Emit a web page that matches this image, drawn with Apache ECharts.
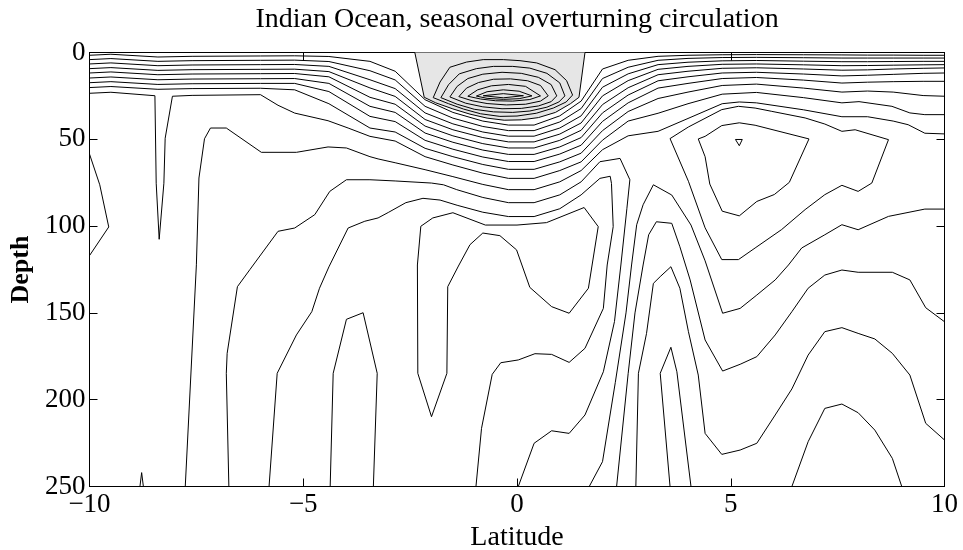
<!DOCTYPE html>
<html><head><meta charset="utf-8">
<script src="https://cdn.jsdelivr.net/npm/echarts/dist/echarts.min.js"></script>
<style>html,body{margin:0;padding:0;background:#fff}#c{width:963px;height:550px}</style>
</head><body><div id="c"></div>
<script>
// ---------- data (latitude, depth) ----------
const titleText = 'Indian Ocean, seasonal overturning circulation';
const xName = 'Latitude';
const yName = 'Depth';

// shared latitude grid for the shallow "U" contours
const uLat = [-10,-9.5,-8.4,-7.6,-6.0,-5.2,-4.4,-3.44,-2.85,-2.15,-1.5,-0.8,-0.2,0.4,1.0,1.5,2.0,2.6,3.3,4.0,4.8,5.6,6.7,7.6,8.2,8.8,9.5,10];
const u1 = [1.6,1.0,2.6,2.2,2.0,1.9,2.3,5.1,10.8,27.2,34.5,39.5,41.8,41.8,36.5,28,9.5,4.5,2.2,1.6,1.3,1.2,1.3,1.4,1.5,1.5,1.6,1.6];
const u2 = [4.1,3.5,5.1,4.7,4.5,4.4,5.2,10.5,15.8,31,37.8,42.6,45,45,40,32.3,15,8.5,4.5,3.4,2.9,2.8,3.0,3.2,3.2,3.2,3.2,3.2];
const u3 = [6.6,6.0,7.6,7.2,7.0,6.9,8.0,15.7,20.8,34.8,41.1,45.8,48.2,48.2,43.5,36.5,20,12.3,7,5.6,4.8,4.6,5.0,5.3,5.3,5.2,5.1,5.1];
const u4 = [9.3,8.7,10.3,9.9,9.7,9.6,11.0,20.4,25.3,38.6,44.5,49,51.5,51.5,47,40.6,25,16.2,9.7,8,6.8,6.6,7.1,7.6,7.5,7.3,7.1,7.0];
const u5 = [11.8,11.2,12.8,12.4,12.2,12.1,14.0,25.8,29.8,42.4,48,52.5,55,55,50.6,44.8,30,20.3,12.8,10.8,9.1,8.8,9.5,10.2,10,9.5,9.1,8.9];
const u6 = [14.7,14.1,15.7,15.3,15.1,15.0,17.8,31,34.5,46.4,51.7,56.2,58.7,58.7,54.4,49,34.8,24.5,16.3,14,11.8,11.4,12.4,13.5,13.1,12.6,12,11.8];
const u7 = [17.4,16.8,18.4,18.0,17.8,17.8,22.5,36.8,39.8,50.6,55.7,60.2,62.8,62.8,58.5,53.4,39.7,29,20.5,17.8,15,14.4,15.9,17.6,17.1,16.8,16.6,16.6];
const u8 = [20.2,19.6,21.2,20.8,20.6,21.5,29.5,43.5,45.8,55.2,60,64.5,67.3,67.3,63,58,45,34,26.5,22.8,19,18.2,20.5,22.8,22.2,22.8,24.8,25.2];
const u9 = [[-10,23.5],[-9.5,22.9],[-8.47,24.9],[-8.44,75.3],[-8.37,107.6],[-8.26,75.3],[-8.23,49.4],[-8.06,25.2],[-7.6,24.7],[-6.0,24.3],[-5.59,30.4],[-5.2,34.9],[-4.42,39.3],[-3.95,43.5],[-3.44,48.3],[-2.85,51],[-2.15,60],[-1.5,64.8],[-0.8,69.5],[-0.2,72.5],[0.4,72.5],[1.0,68],[1.5,63],[2.0,50.5],[2.6,39.5],[3.3,35],[4.0,29.5],[4.8,24],[5.6,23],[6.7,26],[7.6,29],[8.0,28.3],[8.77,31],[9.19,34.8],[9.54,35.8],[10,35.8]];
const cLine = [[-7.76,250],[-7.50,122.3],[-7.44,72.3],[-7.31,49.7],[-7.17,43.5],[-6.80,43.5],[-5.98,57.5],[-5.16,57.5],[-4.42,54.4],[-3.99,55],[-3.44,60],[-3.25,61.3],[-2.85,63.5],[-2.15,67.5],[-1.5,71.5],[-0.8,76],[-0.2,79],[0.4,79],[1.0,74.5],[1.5,68],[2.0,56],[2.6,48],[3.3,45.4],[4.0,38],[4.8,29.5],[5.2,28.5],[5.6,29],[6.7,33],[7.6,37],[8.2,37],[8.8,39.5],[9.15,41.6],[9.54,46.5],[10,46.9]];
const wLine = [[-6.74,250],[-6.80,184.8],[-6.78,173.3],[-6.54,134.9],[-6.25,125.1],[-5.59,103],[-5.20,101.1],[-4.73,93.4],[-4.38,80],[-3.99,73.3],[-3.44,73.3],[-2.85,74],[-2.0,75.2],[-1.72,76.2],[-1.41,79],[-0.8,83.5],[-0.2,86.5],[0.4,86.5],[1.0,82],[1.5,74.5],[1.94,62.9],[2.41,61],[2.64,73.3],[2.57,90],[2.43,122.4],[2.28,155],[2.02,183.9],[1.59,208.8],[1.22,219.4],[0.81,217.9],[0.40,225.1],[0.03,250]];
const bLine = [[-5.80,250],[-5.61,184.8],[-5.16,162.7],[-4.80,149.3],[-4.62,135.8],[-4.40,123.5],[-3.95,101.1],[-3.56,97.2],[-3.25,95.3],[-3.0,92],[-2.6,86.5],[-2.2,84],[-1.8,85],[-1.4,88],[-0.8,92],[-0.2,94.5],[0.4,94.5],[1.0,90],[1.5,82],[1.94,72.5],[2.18,71.3],[2.21,75.4],[2.25,100.3],[2.11,122.4],[2.02,147.4],[1.59,170.4],[1.22,178.5],[0.81,173.9],[0.42,173.5],[0.03,177.1],[-0.38,178.7],[-0.58,185.4],[-0.83,216.5],[-0.96,250]];

// zero contour bounding the shaded (negative) cell
const zeroLine = [[-2.39,0],[-2.17,25.8],[-1.9,29],[-1.5,32.5],[-1.1,35.5],[-0.7,37.8],[-0.3,39],[0.1,38.8],[0.5,37.5],[0.9,34.5],[1.25,29.5],[1.45,25.8],[1.59,0]];
const g6 = [[-1.96,26],[-1.80,17],[-1.57,8.5],[-1.18,5.5],[-0.79,4.1],[-0.32,4.1],[0.07,4.7],[0.46,6],[0.89,9.9],[1.16,16.2],[1.30,24.5],[1.15,28.5],[0.85,32],[0.45,35],[0.0,36.6],[-0.4,36.8],[-0.85,35.3],[-1.25,32.6],[-1.6,29.5],[-1.96,26]];
const g5 = [[-1.78,26],[-1.60,18.5],[-1.35,12.3],[-0.95,9.3],[-0.55,8],[-0.1,8],[0.3,9],[0.7,12],[1.0,17.5],[1.12,25],[0.98,28.5],[0.7,31.5],[0.3,33.7],[-0.1,34.5],[-0.55,34.2],[-1.0,32.7],[-1.4,29.8],[-1.78,26]];
const g4 = [[-1.57,25.6],[-1.40,19.5],[-1.15,15],[-0.8,12.5],[-0.35,11.4],[0.1,12],[0.5,14.3],[0.8,18.5],[0.93,25],[0.8,28.3],[0.5,30.8],[0.1,32.2],[-0.35,32.4],[-0.8,31.3],[-1.2,29.2],[-1.57,25.6]];
const g3 = [[-1.36,25.4],[-1.18,20.5],[-0.9,17.3],[-0.55,15.4],[-0.15,15.2],[0.25,16.3],[0.55,19],[0.73,25],[0.55,28],[0.2,29.8],[-0.25,30.2],[-0.7,29.4],[-1.05,27.8],[-1.36,25.4]];
const g2 = [[-1.15,25.2],[-0.92,21.5],[-0.6,19.2],[-0.2,18.4],[0.2,19.5],[0.55,25],[0.3,27.1],[-0.1,28],[-0.5,27.8],[-0.85,26.8],[-1.15,25.2]];
const g1 = [[-0.95,25.1],[-0.7,22.6],[-0.32,21.5],[0.05,22.3],[0.35,25],[0.05,26.6],[-0.32,27],[-0.7,26.4],[-0.95,25.1]];
const gLens = [[-0.79,24.9],[-0.32,23.7],[0.15,24.9],[-0.32,26.1],[-0.79,24.9]];

// deeper structures
const vLoop = [[-2.0,209.8],[-2.32,184.8],[-2.33,122.4],[-2.25,100.1],[-1.97,95.3],[-1.50,92.3],[-0.74,99.4],[0.0,99.4],[0.69,98],[1.57,89.3],[1.90,100.3],[1.67,135.8],[1.22,150.2],[0.81,146.4],[0.30,135.3],[-0.01,113.7],[-0.40,105.5],[-0.80,104],[-1.10,110.7],[-1.37,123],[-1.62,134.9],[-1.64,184.8],[-2.0,209.8]];
const peakLine = [[-4.37,250],[-4.30,184.8],[-3.99,153.7],[-3.60,149.9],[-3.27,184.8],[-3.36,250]];
const wedge = [[-10,58.5],[-9.76,76.2],[-9.55,100.5],[-10,117]];
const tinySpike = [[-8.82,250],[-8.78,242],[-8.74,250]];
const r1Line = [[1.69,250],[2.0,235.7],[2.3,190],[2.55,150],[2.68,122.4],[2.80,99.2],[2.95,87.7],[3.19,76.2],[3.62,82.1],[4.07,99.4],[4.40,120],[4.81,150.2],[5.22,147.4],[5.61,139.7],[6.04,131],[6.35,122.4],[6.66,112.6],[7.2,105],[7.6,99.2],[7.98,102.1],[8.69,94.4],[9.54,90.2],[10,90.2]];
const r2Line = [[2.33,250],[2.6,185],[2.76,150],[2.95,122.4],[3.08,105],[3.26,97.5],[3.62,98.4],[3.81,111.9],[4.05,131],[4.40,165.6],[4.81,183.5],[5.22,179.6],[5.61,175.2],[6.04,162.7],[6.43,149.3],[6.81,135.8],[7.2,128.2],[7.6,125.3],[7.98,126.6],[8.78,126.6],[9.19,131],[9.56,147],[10,155.1]];
const r3Line = [[2.78,250],[2.84,184.8],[3.03,161.8],[3.19,133],[3.35,129.1],[3.60,123.4],[3.81,135.8],[4.01,160.8],[4.24,185.8],[4.40,219.4],[4.79,231.5],[5.22,229],[5.61,225.1],[6.04,208.8],[6.43,193.8],[6.81,174.3],[7.2,160.8],[7.6,158.5],[7.98,161.8],[8.37,165],[8.78,173.3],[9.19,185.8],[9.56,213.6],[10,223.2]];
const narrowPeak = [[3.58,250],[3.35,184.8],[3.60,169.8],[3.74,183.9],[4.07,250]];
const arch = [[6.43,250],[6.81,224.2],[7.2,205],[7.6,202.5],[7.98,207.5],[8.37,217.5],[8.78,233.8],[9.0,250]];
const cellOuter = [[3.58,49.6],[4.01,42.9],[4.79,32.9],[5.18,31],[5.57,32],[5.96,33.9],[6.74,37.7],[7.2,41.2],[7.6,45.4],[7.91,44.5],[8.69,50.2],[8.30,75.2],[7.98,80],[7.60,76.5],[7.2,81.9],[6.74,90.5],[6.19,102],[5.57,112.6],[5.18,119.3],[4.79,119.3],[4.40,101],[4.01,74.2],[3.58,49.6]];
const cellInner = [[4.24,49.8],[4.40,48.3],[4.79,42.1],[5.20,40.5],[5.57,41.9],[6.83,49.8],[6.37,74.8],[6.02,81.8],[5.61,85.8],[5.20,94.1],[4.80,91.4],[4.51,75.8],[4.40,60],[4.24,49.8]];
const cellTiny = [[5.11,50.1],[5.27,50.1],[5.20,53.7],[5.11,50.1]];

// ---------- chart ----------
const FONT = '"Liberation Serif","Times New Roman",serif';
const black = '#000';
const chart = echarts.init(document.getElementById('c'), null, {renderer:'canvas', width:963, height:550});

function line(data, extra) {
  return Object.assign({
    type:'line', data: data, showSymbol:false, symbol:'none', silent:true,
    animation:false, clip:true, z:3,
    lineStyle:{color:black, width:1}
  }, extra || {});
}
const fromGrid = (depths) => uLat.map((x, i) => [x, depths[i]]);

const series = [
  line(zeroLine, {z:2, areaStyle:{color:'#e6e6e6', opacity:1, origin:'start'}}),
  line(fromGrid(u1)), line(fromGrid(u2)), line(fromGrid(u3)), line(fromGrid(u4)),
  line(fromGrid(u5)), line(fromGrid(u6)), line(fromGrid(u7)), line(fromGrid(u8)),
  line(u9), line(cLine), line(wLine), line(bLine),
  line(g6), line(g5), line(g4), line(g3), line(g2), line(g1), line(gLens),
  line(vLoop), line(peakLine), line(wedge), line(tinySpike),
  line(r1Line), line(r2Line), line(r3Line), line(narrowPeak), line(arch),
  line(cellOuter), line(cellInner), line(cellTiny)
];

const minus = v => (v < 0 ? '\u2212' + Math.abs(v) : String(v));
const axisCommon = {
  axisLine:{show:true, onZero:false, lineStyle:{color:black, width:1}},
  axisTick:{show:true, inside:true, length:8, lineStyle:{color:black, width:1}},
  splitLine:{show:false}
};

chart.setOption({
  backgroundColor:'#fff',
  animation:false,
  title:{
    text:titleText, left:517, top:6, textAlign:'center', padding:0,
    textStyle:{fontFamily:FONT, fontSize:28, fontWeight:'normal', color:black}
  },
  grid:{left:89.5, right:18.5, top:52.5, bottom:63.5, containLabel:false, outerBoundsMode:'none'},
  xAxis:[
    Object.assign({type:'value', min:-10, max:10, interval:5, position:'bottom',
      axisLabel:{color:black, fontFamily:FONT, fontSize:27, margin:5, formatter:minus},
      name:xName, nameLocation:'middle', nameGap:35,
      nameTextStyle:{color:black, fontFamily:FONT, fontSize:28}}, axisCommon),
    Object.assign({type:'value', min:-10, max:10, interval:5, position:'top',
      axisLabel:{show:false}}, axisCommon)
  ],
  yAxis:[
    Object.assign({type:'value', min:0, max:250, interval:50, inverse:true, position:'left',
      axisLabel:{color:black, fontFamily:FONT, fontSize:27, margin:4},
      name:yName, nameLocation:'middle', nameGap:52,
      nameTextStyle:{color:black, fontFamily:FONT, fontSize:26, fontWeight:'bold'}}, axisCommon),
    Object.assign({type:'value', min:0, max:250, interval:50, inverse:true, position:'right',
      axisLabel:{show:false}}, axisCommon)
  ],
  series: series
});
</script></body></html>
